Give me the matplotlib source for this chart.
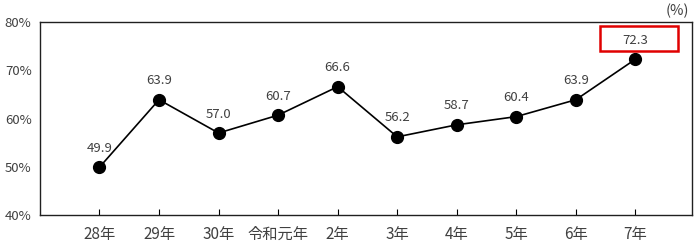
import matplotlib.pyplot as plt
from matplotlib.patches import Rectangle

plt.rcParams['font.family'] = ['Noto Sans CJK JP', 'DejaVu Sans']

years = ['28年', '29年', '30年', '令和元年', '2年', '3年', '4年', '5年', '6年', '7年']
rates = [49.9, 63.9, 57.0, 60.7, 66.6, 56.2, 58.7, 60.4, 63.9, 72.3]
y_ticks = [40, 50, 60, 70, 80]
y_labels = ['40%', '50%', '60%', '70%', '80%']

txt_col = '#404040'

fig = plt.figure(figsize=(7, 2.45), dpi=100)
ax = fig.add_axes([0.057, 0.1224, 0.9316, 0.7876])

x = list(range(len(years)))
ax.plot(x, rates, color='black', lw=1.2, marker='o', ms=8.5, zorder=3)

for xi, v in zip(x, rates):
    ax.annotate(f'{v:.1f}', (xi, v), xytext=(0, 9), textcoords='offset points',
                ha='center', va='bottom', fontsize=9.5, color=txt_col)

# red box round the last value
last = len(years) - 1
ax.add_patch(Rectangle((last - 0.6, 73.9), 1.32, 5.2, fill=False, ec='#e00000', lw=1.8,
                       zorder=4))

ax.set_xlim(-1.0, 9.95)
ax.set_ylim(40, 80)
ax.set_xticks(x)
ax.set_xticklabels(years)
ax.set_yticks(y_ticks)
ax.set_yticklabels(y_labels)
ax.tick_params(axis='x', direction='in', length=4, width=0.8, labelsize=11,
               labelcolor=txt_col, pad=8)
ax.tick_params(axis='y', length=0, labelsize=9.5, labelcolor=txt_col, pad=6)
for s in ax.spines.values():
    s.set_linewidth(1.0)
    s.set_color('#202020')

fig.text(0.985, 0.985, '(%)', ha='right', va='top', fontsize=10.5, color=txt_col)

fig.savefig('out.png', dpi=100)
